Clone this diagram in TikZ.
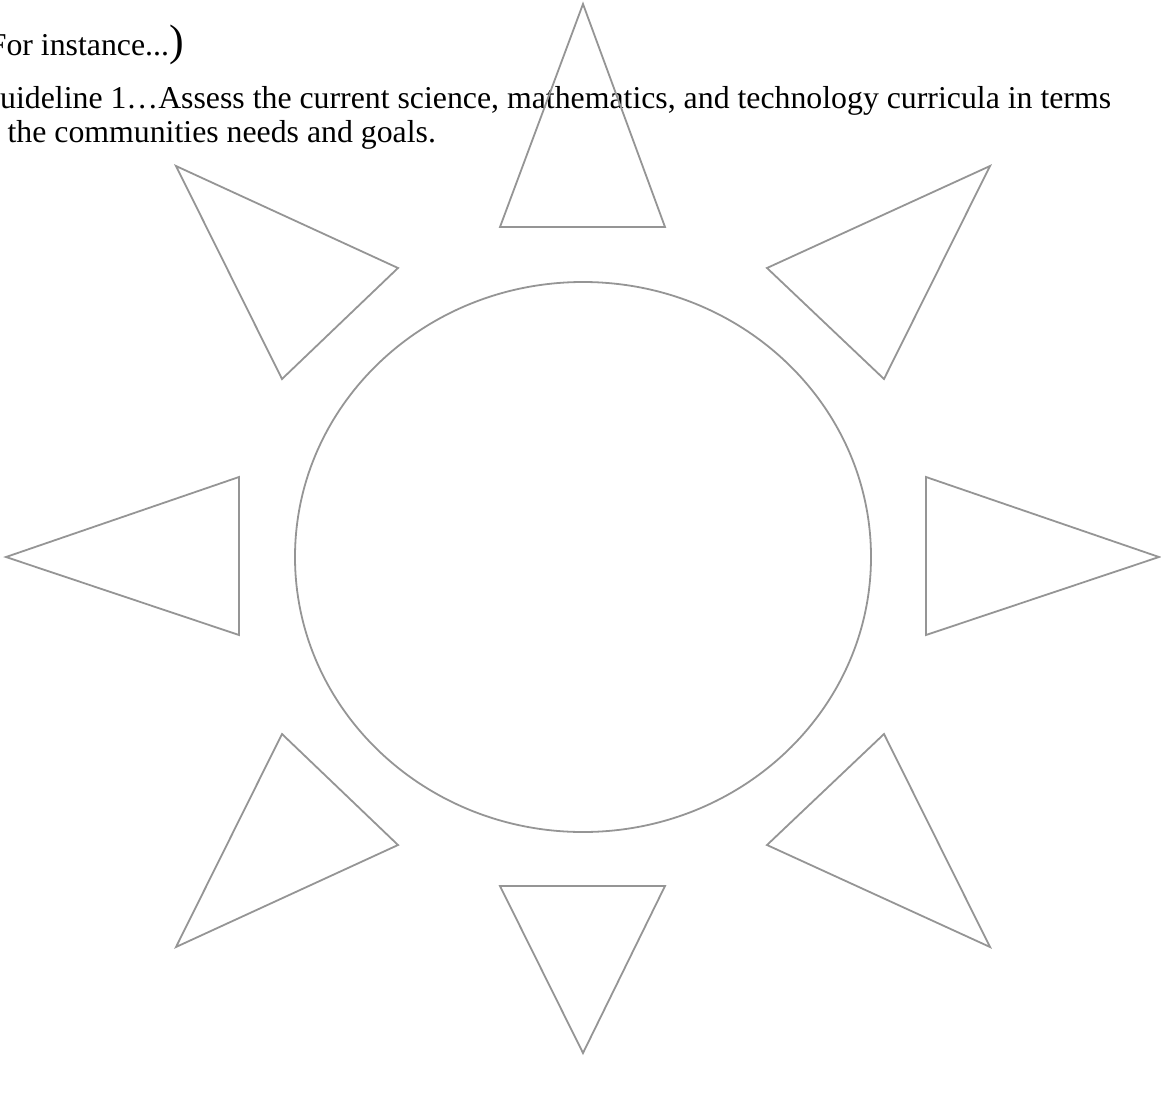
\documentclass[tikz,border=0pt]{standalone}
\usepackage{fontspec}
\setmainfont{Liberation Serif}
\usetikzlibrary{positioning}
\definecolor{raygray}{HTML}{959595}

\begin{document}
\begin{tikzpicture}[
  x=1pt, y=-1pt,
  ray/.style={draw=raygray, line width=1.8pt, line join=miter},
  body/.style={anchor=base west, inner sep=0pt, font=\fontsize{31.8}{34}\selectfont},
]
% ---- frame ----
\useasboundingbox (0,0) rectangle (1161,1111);
\begin{scope}
\clip (0,0) rectangle (1161,1111);

% ---- text (runs off the left edge) ----
\node[body] (instance) at (-26,55)
  {{\fontsize{44}{44}\selectfont(}For instance...{\fontsize{44}{44}\selectfont)}};
\node[body] (guide1) at (-23,108)
  {Guideline 1\ldots Assess the current science, mathematics, and technology curricula in terms};
\node[body] (guide2) at (-27,142) {of the communities needs and goals.};

% ---- sun body ----
\draw[ray] (583,557) ellipse [x radius=288, y radius=275];

% ---- rays ----
\draw[ray] (583,4)    -- (500,227) -- (665,227) -- cycle;   % top
\draw[ray] (583,1053) -- (500,886) -- (665,886) -- cycle;   % bottom
\draw[ray] (6,557)    -- (239,477) -- (239,635) -- cycle;   % left
\draw[ray] (1159,557) -- (926,477) -- (926,635) -- cycle;   % right
\draw[ray] (176,166)  -- (398,268) -- (282,379) -- cycle;   % top left
\draw[ray] (990,166)  -- (767,268) -- (884,379) -- cycle;   % top right
\draw[ray] (282,734)  -- (398,845) -- (176,947) -- cycle;   % bottom left
\draw[ray] (884,734)  -- (767,845) -- (990,947) -- cycle;   % bottom right
\end{scope}
\end{tikzpicture}
\end{document}
